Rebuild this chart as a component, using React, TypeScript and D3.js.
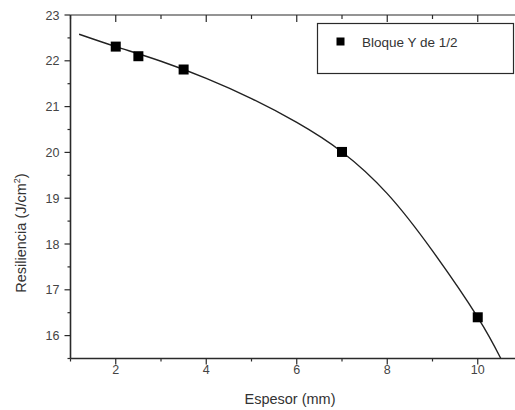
import React from "react";
import * as d3 from "d3";

const xData = [2, 2.5, 3.5, 7, 10];
const yData = [22.31, 22.1, 21.81, 20.01, 16.4];
const fitX = [1.19, 2, 3, 4, 5, 6, 7, 8, 9, 10, 10.51];
const fitY = [22.58, 22.31, 21.99, 21.615, 21.175, 20.655, 20.01, 19.1, 17.85, 16.4, 15.5];
const xTicks = [2, 4, 6, 8, 10];
const xMinor = [1, 3, 5, 7, 9, 11];
const yTicks = [16, 17, 18, 19, 20, 21, 22, 23];
const yMinor = [15.5, 16.5, 17.5, 18.5, 19.5, 20.5, 21.5, 22.5];
const legendLabel = "Bloque Y de 1/2";

const W = 515;
const H = 410;
const L = 70.5, R = 523, T = 15, B = 358.5;

export default function App() {
  const x = d3.scaleLinear().domain([1, 11]).range([L, R]);
  const y = d3.scaleLinear().domain([15.5, 23]).range([B, T]);
  const line = d3
    .line<number>()
    .x((d) => x(d))
    .y((_, i) => y(fitY[i]))
    .curve(d3.curveNatural);
  const ax = "#2a2a2a";
  const font = "'Liberation Sans', Arial, sans-serif";
  return (
    <svg
      width={W}
      height={H}
      style={{ position: "absolute", left: 0, top: 0, background: "#fff" }}
      fontFamily={font}
    >
      <defs>
        <clipPath id="plot">
          <rect x={L} y={T} width={R - L} height={B - T} />
        </clipPath>
      </defs>
      <rect x={0} y={0} width={W} height={H} fill="#fff" />
      {/* curve */}
      <path d={line(fitX) || ""} fill="none" stroke="#222" strokeWidth={1.4} clipPath="url(#plot)" />
      {/* markers */}
      {xData.map((d, i) => (
        <rect key={i} x={x(d) - 5} y={y(yData[i]) - 5} width={10} height={10} fill="#000" />
      ))}
      {/* axes lines */}
      <line x1={L} x2={L} y1={T} y2={B} stroke={ax} strokeWidth={1.6} />
      <line x1={L} x2={W} y1={B} y2={B} stroke={ax} strokeWidth={1.6} />
      <line x1={L} x2={W} y1={T} y2={T} stroke={ax} strokeWidth={1.2} />
      {/* y ticks */}
      {yTicks.map((t) => (
        <g key={"y" + t}>
          <line x1={L - 6} x2={L} y1={y(t)} y2={y(t)} stroke={ax} strokeWidth={1.2} />
          <text x={L - 11} y={y(t) + 4.5} textAnchor="end" fontSize={12.5} fill="#444">
            {t}
          </text>
        </g>
      ))}
      {yMinor.map((t) => (
        <line key={"ym" + t} x1={L - 3} x2={L} y1={y(t)} y2={y(t)} stroke={ax} strokeWidth={1.2} />
      ))}
      {/* x ticks */}
      {xTicks.map((t) => (
        <g key={"x" + t}>
          <line x1={x(t)} x2={x(t)} y1={B} y2={B + 6} stroke={ax} strokeWidth={1.2} />
          <line x1={x(t)} x2={x(t)} y1={T} y2={T + 7} stroke={ax} strokeWidth={1.2} />
          <text x={x(t)} y={B + 15} textAnchor="middle" fontSize={12.5} fill="#444">
            {t}
          </text>
        </g>
      ))}
      {xMinor.map((t) => (
        <g key={"xm" + t}>
          <line x1={x(t)} x2={x(t)} y1={B} y2={B + 3} stroke={ax} strokeWidth={1.2} />
          <line x1={x(t)} x2={x(t)} y1={T} y2={T + 4} stroke={ax} strokeWidth={1.2} />
        </g>
      ))}
      {/* axis titles */}
      <text x={290} y={404} textAnchor="middle" fontSize={14.5} fill="#333">
        Espesor (mm)
      </text>
      <text
        transform={`translate(26, 233) rotate(-90)`}
        textAnchor="middle"
        fontSize={14.5}
        fill="#333"
      >
        Resiliencia (J/cm
        <tspan dy={-6} fontSize={9}>
          2
        </tspan>
        <tspan dy={6}>)</tspan>
      </text>
      {/* legend */}
      <rect x={317.5} y={23.5} width={196} height={50} fill="#fff" stroke={ax} strokeWidth={1.2} />
      <rect x={336.5} y={37.5} width={8} height={8} fill="#000" />
      <text x={362} y={47} fontSize={13.5} fill="#333">
        {legendLabel}
      </text>
    </svg>
  );
}
